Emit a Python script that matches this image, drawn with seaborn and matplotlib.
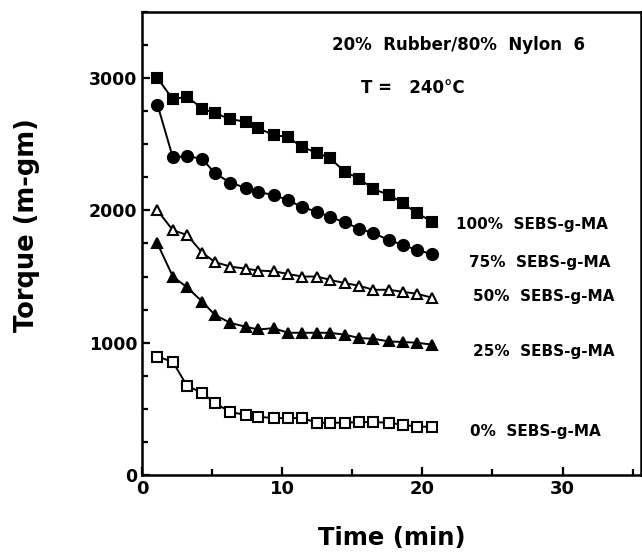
import numpy as np
import pandas as pd
import matplotlib
matplotlib.use('Agg')
import matplotlib.pyplot as plt
import seaborn as sns
from matplotlib.ticker import MultipleLocator

# Data
time_min = [1.1, 2.2, 3.2, 4.3, 5.2, 6.3, 7.4, 8.3, 9.4, 10.4,
            11.4, 12.5, 13.4, 14.5, 15.5, 16.5, 17.6, 18.6, 19.6, 20.7]
torque_100 = [3000, 2840, 2860, 2770, 2735, 2690, 2670, 2620, 2570, 2555,
              2480, 2435, 2395, 2290, 2240, 2160, 2120, 2055, 1980, 1915]
torque_75 = [2800, 2400, 2410, 2390, 2280, 2210, 2170, 2140, 2115, 2080,
             2025, 1990, 1950, 1910, 1860, 1830, 1775, 1740, 1700, 1670]
torque_50 = [2000, 1850, 1815, 1680, 1610, 1575, 1560, 1545, 1540, 1520,
             1500, 1500, 1475, 1450, 1430, 1400, 1400, 1385, 1370, 1340]
torque_25 = [1750, 1500, 1420, 1310, 1210, 1150, 1120, 1100, 1110, 1075,
             1075, 1075, 1075, 1060, 1035, 1030, 1010, 1005, 1000, 985]
torque_0 = [895, 855, 675, 620, 545, 475, 455, 440, 430, 430,
            430, 395, 395, 395, 400, 400, 395, 380, 365, 365]

series_labels = ['100%  SEBS-g-MA', '75%  SEBS-g-MA', '50%  SEBS-g-MA',
                 '25%  SEBS-g-MA', '0%  SEBS-g-MA']

sns.set_style('ticks')
plt.rcParams['font.family'] = ['DejaVu Sans']
plt.rcParams.update({'text.color': 'black', 'axes.labelcolor': 'black',
                     'xtick.color': 'black', 'ytick.color': 'black',
                     'axes.edgecolor': 'black'})

fig = plt.figure(figsize=(6.42, 5.59), dpi=100)
ax = fig.add_axes([0.2212, 0.1503, 0.7773, 0.8283])

# (values, marker, face colour, marker size)
styles = [
    (torque_100, 's', 'black', 7),
    (torque_75, 'o', 'black', 8),
    (torque_50, '^', 'white', 7),
    (torque_25, '^', 'black', 7.5),
    (torque_0, 's', 'white', 6.5),
]
for vals, mk, fc, ms in styles:
    sns.lineplot(x=time_min, y=vals, ax=ax, color='black', lw=1.4,
                 marker=mk, markersize=ms, markerfacecolor=fc,
                 markeredgecolor='black', markeredgewidth=1.5)

ax.set_xlim(0, 35.6)
ax.set_ylim(0, 3500)
ax.xaxis.set_major_locator(MultipleLocator(10))
ax.xaxis.set_minor_locator(MultipleLocator(5))
ax.yaxis.set_major_locator(MultipleLocator(1000))
ax.yaxis.set_minor_locator(MultipleLocator(250))
ax.tick_params(which='both', direction='in', width=1.6, colors='black')
ax.tick_params(which='major', length=6)
ax.tick_params(which='minor', length=4)
for lab in ax.get_yticklabels():
    lab.set_fontweight('bold')
    lab.set_fontsize(12.5)
for lab in ax.get_xticklabels():
    lab.set_fontweight('bold')
    lab.set_fontsize(13)
for sp in ax.spines.values():
    sp.set_linewidth(1.8)
    sp.set_color('black')

ax.set_xlabel('Time (min)', fontsize=17.5, fontweight='bold', labelpad=20)
ax.set_ylabel('Torque (m-gm)', fontsize=18.5, fontweight='bold')
ax.yaxis.set_label_coords(-0.205, 0.54)

ax.text(22.6, 3250, '20%  Rubber/80%  Nylon  6', ha='center', va='center',
        fontsize=12, fontweight='bold')
ax.text(19.3, 2925, 'T =   240°C', ha='center', va='center',
        fontsize=12, fontweight='bold')

label_pos = [(22.4, 1890), (23.3, 1603), (23.6, 1346), (23.6, 930), (23.4, 325)]
for (lx, ly), txt in zip(label_pos, series_labels):
    ax.text(lx, ly, txt, ha='left', va='center', fontsize=11, fontweight='bold')

fig.savefig('out.png', dpi=100)
